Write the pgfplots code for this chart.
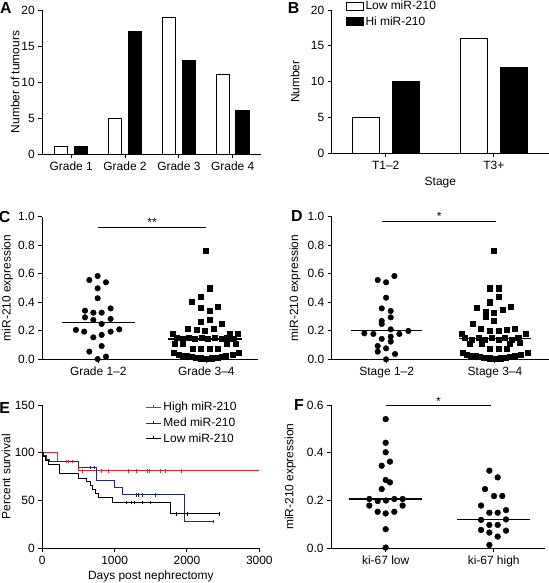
\documentclass[border=0pt]{standalone}
\usepackage{pgfplots}
\pgfplotsset{compat=1.18}
\usepackage{fontspec}
\setmainfont{Liberation Sans}
\definecolor{kmred}{RGB}{225,35,35}
\definecolor{kmblue}{RGB}{35,35,140}
\newcommand{\fs}{\fontsize{12}{14}\selectfont}
\pgfplotsset{
  panel/.style={
    scale only axis,
    axis x line*=bottom, axis y line*=left,
    axis line style={line width=1bp,-},
    tick align=outside,
    major tick length=4bp,
    tick style={line width=1bp,black},
    tick label style={font=\fs},
    label style={font=\fs},
    /pgf/number format/assume math mode=true,
    /pgf/number format/1000 sep={},
    clip=false,
  },
  ylab/.style={ylabel style={at={(axis description cs:#1,0.5)},anchor=center}},
  onedec/.style={yticklabel style={/pgf/number format/.cd,fixed,fixed zerofill,precision=1}},
}
\begin{document}
\begin{tikzpicture}
\useasboundingbox (0,0) rectangle (549bp,-583bp);
\tikzset{pl/.style={font=\bfseries\fontsize{16}{16}\selectfont,inner sep=0pt}}
\node[pl] at (5.8bp,-8bp) {A};
\node[pl] at (293.7bp,-8bp) {B};
\node[pl] at (4.7bp,-217bp) {C};
\node[pl] at (297bp,-216bp) {D};
\node[pl] at (4.7bp,-408.3bp) {E};
\node[pl] at (299bp,-404.7bp) {F};

% ---------- A ----------
\begin{axis}[panel, at={(42.3bp,-154bp)}, anchor=south west, width=218.4bp, height=144bp,
  xmin=-0.537, xmax=3.52, ymin=0, ymax=20, ytick={0,5,10,15,20},
  xtick={0,1,2,3}, xticklabels={Grade 1,Grade 2,Grade 3,Grade 4},
  ylabel={Number of tumours}, ylab=-0.125]
\addplot[ybar, bar width=0.25, bar shift=-0.185, draw=black, fill=white, line width=1bp] coordinates {(0,1)(1,5)(2,19)(3,11)};
\addplot[ybar, bar width=0.25, bar shift=0.185, draw=black, fill=black, line width=1bp] coordinates {(0,1)(1,17)(2,13)(3,6)};
\end{axis}

% ---------- B ----------
\begin{axis}[panel, at={(331.7bp,-153.3bp)}, anchor=south west, width=217.3bp, height=143.3bp,
  xmin=-0.5, xmax=1.51, ymin=0, ymax=20, ytick={0,5,10,15,20},
  xtick={0,1}, xticklabels={T1--2,T3+},
  xlabel={Stage}, xlabel style={at={(axis description cs:0.5,-0.205)},anchor=center},
  ylabel={Number}, ylab=-0.169,
  legend image code/.code={\draw[#1] (0bp,-3.7bp) rectangle (16.5bp,3.7bp);},
  legend style={at={(axis description cs:0.065,1.076)}, anchor=north west, draw=none, fill=none,
    inner sep=0pt, font=\fs, row sep=1bp}, legend cell align=left]
\addplot[ybar, bar width=0.25, bar shift=-0.185, draw=black, fill=white, line width=1bp] coordinates {(0,5)(1,16)};
\addlegendentry{Low miR-210}
\addplot[ybar, bar width=0.25, bar shift=0.185, draw=black, fill=black, line width=1bp] coordinates {(0,10)(1,12)};
\addlegendentry{Hi miR-210}
\end{axis}

% ---------- C ----------
\begin{axis}[panel, at={(42.3bp,-359.3bp)}, anchor=south west, width=216bp, height=142.6bp,
  xmin=-0.518, xmax=1.48, ymin=0, ymax=1, ytick={0,0.2,0.4,0.6,0.8,1.0}, onedec,
  xtick={0,1}, xticklabels={Grade 1--2,Grade 3--4},
  ylabel={miR-210 expression}, ylab=-0.161]
\addplot[only marks, mark=*, mark size=2.8bp, black] coordinates {
(-0.083,0.556) (-0.006,0.584) (0.071,0.540) (-0.006,0.498) (-0.006,0.428) (-0.123,0.341) (-0.046,0.327) (0.031,0.327) (0.114,0.357) (-0.123,0.294) (-0.046,0.276) (0.031,0.248) (0.114,0.283) (-0.207,0.206) (-0.130,0.194) (-0.046,0.154) (0.031,0.171) (0.114,0.194) (0.194,0.210) (-0.083,0.054) (0.031,0.093) (-0.006,0.002) (0.071,0.019)};
\addplot[only marks, mark=square*, mark size=2.6bp, black] coordinates {
(0.99,0.762) (1.031,0.498) (0.947,0.439) (0.867,0.404) (0.947,0.362) (1.031,0.341) (1.108,0.369) (0.947,0.264) (1.031,0.276) (0.830,0.217) (0.907,0.205) (0.984,0.201) (1.071,0.217) (1.145,0.248) (0.685,0.182) (1.293,0.177) (1.216,0.177)
(0.722,0.150) (0.784,0.142) (0.839,0.150) (0.892,0.142) (0.953,0.150) (1.015,0.142) (1.077,0.150) (1.139,0.142) (1.191,0.150) (1.247,0.142)
(0.707,0.112) (0.784,0.108) (1.191,0.112) (1.271,0.108)
(0.870,0.077) (0.947,0.072) (1.031,0.077) (1.108,0.072)
(0.70,0.045) (0.74,0.035) (0.78,0.028) (0.82,0.022) (0.86,0.017) (0.90,0.012) (0.95,0.008) (1.0,0.003) (1.05,0.008) (1.10,0.012) (1.14,0.017) (1.18,0.022) (1.24,0.032) (1.30,0.045)};
\addplot[black, line width=1.2bp] coordinates {(-0.34,0.26)(0.34,0.26)};
\addplot[black, line width=1.2bp] coordinates {(0.647,0.142)(1.327,0.142)};
\addplot[black, line width=1.2bp] coordinates {(-0.005,0.923)(1.0,0.923)};
\node[anchor=base, font=\fs, inner sep=0pt] at (axis cs:0.4975,0.93) {**};
\end{axis}

% ---------- D ----------
\begin{axis}[panel, at={(331.7bp,-359.3bp)}, anchor=south west, width=217.3bp, height=142.6bp,
  xmin=-0.508, xmax=1.499, ymin=0, ymax=1, ytick={0,0.2,0.4,0.6,0.8,1.0}, onedec,
  xtick={0,1}, xticklabels={Stage 1--2,Stage 3--4},
  ylabel={miR-210 expression}, ylab=-0.169]
\addplot[only marks, mark=*, mark size=2.8bp, black] coordinates {
(-0.083,0.556) (-0.006,0.540) (0.071,0.584) (-0.006,0.432) (-0.046,0.357) (0.037,0.339) (0.037,0.294) (-0.046,0.269) (-0.046,0.248) (0.037,0.210) (-0.206,0.182) (-0.123,0.178) (0.117,0.178) (0.2,0.199) (-0.046,0.143) (0.037,0.159) (-0.083,0.093) (0.037,0.124) (-0.083,0.054) (-0.006,0.077) (0.077,0.037) (-0.006,0.0)};
\addplot[only marks, mark=square*, mark size=2.6bp, black] coordinates {
(0.991,0.762) (0.948,0.498) (1.031,0.498) (1.031,0.439) (0.948,0.400) (0.831,0.362) (0.914,0.334) (0.914,0.299) (0.991,0.327) (1.071,0.350) (1.145,0.369) (0.991,0.271) (0.794,0.252) (0.871,0.217) (0.954,0.201) (1.031,0.201) (1.108,0.210) (1.185,0.217) (0.692,0.182) (1.286,0.178)
(0.723,0.150) (0.785,0.140) (0.846,0.150) (0.908,0.140) (0.969,0.150) (1.031,0.140) (1.092,0.150) (1.154,0.140) (1.215,0.150)
(0.769,0.112) (0.877,0.107) (1.138,0.112) (1.231,0.117)
(0.948,0.072) (1.031,0.072) (1.108,0.077)
(0.70,0.045) (0.74,0.035) (0.78,0.028) (0.82,0.022) (0.86,0.017) (0.90,0.012) (0.95,0.008) (1.0,0.003) (1.05,0.008) (1.10,0.012) (1.14,0.017) (1.18,0.022) (1.24,0.032) (1.30,0.045)};
\addplot[black, line width=1.2bp] coordinates {(-0.33,0.201)(0.33,0.201)};
\addplot[black, line width=1.2bp] coordinates {(0.67,0.147)(1.33,0.147)};
\addplot[black, line width=1.2bp] coordinates {(-0.04,0.965)(1.01,0.965)};
\node[anchor=base, font=\fs, inner sep=0pt] at (axis cs:0.485,0.972) {*};
\end{axis}

% ---------- E ----------
\begin{axis}[panel, at={(42.3bp,-548.3bp)}, anchor=south west, width=217bp, height=143.3bp,
  xmin=0, xmax=3000, ymin=0, ymax=150, xtick={0,1000,2000,3000}, ytick={0,50,100,150},
  xlabel={Days post nephrectomy}, xlabel style={at={(axis description cs:0.5,-0.219)},anchor=base},
  ylabel={Percent survival}, ylab=-0.167,
  legend image code/.code={\draw[#1] (0bp,0bp) -- (15bp,0bp); \draw[#1] (7.5bp,-0.5bp) -- (7.5bp,2.5bp);},
  legend style={at={(axis description cs:0.475,1.034)}, anchor=north west, draw=none, fill=none,
    inner sep=0pt, font=\fs, row sep=1.5bp}, legend cell align=left]
\addplot[const plot, kmred, line width=0.9bp] coordinates {(0,100)(212,90.8)(498,81)(3000,81)};
\addlegendentry{High miR-210}
\addplot[const plot, kmblue, line width=0.9bp] coordinates {(0,100)(20,96.7)(60,93.4)(100,91)(498,84.5)(751,71.5)(1004,64)(1106,56)(1972,28)(2364,28)};
\addlegendentry{Med miR-210}
\addplot[const plot, black, line width=0.9bp] coordinates {(0,100)(15,96)(50,92)(85,88.3)(244,78)(498,73.3)(613,69.8)(659,66)(700,62)(740,57.6)(774,53)(968,47.8)(1765,36)(2442,36)};
\addlegendentry{Low miR-210}
\addplot[forget plot, only marks, mark=|, mark size=1.8bp, kmred, line width=0.8bp] coordinates {(336,90.8)(359,90.8)(419,90.8)(553,81)(820,81)(912,81)(1189,81)(1304,81)(1456,81)(1475,81)(1627,81)(1705,81)(1926,81)};
\addplot[forget plot, only marks, mark=|, mark size=1.8bp, kmblue, line width=0.8bp] coordinates {(659,84.5)(719,84.5)(1304,56)(1327,56)(1382,56)(1567,56)(2364,28)};
\addplot[forget plot, only marks, mark=|, mark size=1.8bp, black, line width=0.8bp] coordinates {(1166,47.8)(1235,47.8)(1272,47.8)(1382,47.8)(1488,47.8)(1857,36)(2004,36)(2442,36)};
\end{axis}

% ---------- F ----------
\begin{axis}[panel, at={(331bp,-548.3bp)}, anchor=south west, width=214bp, height=143.3bp,
  xmin=-0.506, xmax=1.475, ymin=0, ymax=0.6, ytick={0,0.2,0.4,0.6}, onedec,
  xtick={0,1}, xticklabels={ki-67 low,ki-67 high},
  ylabel={miR-210 expression}, ylab=-0.19]
\addplot[only marks, mark=*, mark size=2.9bp, black] coordinates {
(0.0,0.541) (0.0,0.442) (0.0,0.402) (0.04,0.363) (-0.037,0.346) (0.0,0.286) (0.04,0.276) (-0.037,0.248) (-0.151,0.2065) (-0.074,0.198) (0.003,0.20) (0.08,0.2065) (0.157,0.2065) (-0.151,0.179) (-0.074,0.153) (0.0,0.146) (0.08,0.153) (0.157,0.179) (0.0,0.08) (0.0,0.003)};
\addplot[only marks, mark=*, mark size=2.9bp, black] coordinates {
(0.96,0.325) (1.037,0.297) (0.92,0.248) (1.003,0.219) (1.08,0.219) (0.883,0.179) (0.96,0.149) (1.037,0.149) (1.114,0.160) (0.883,0.119) (0.96,0.098) (1.037,0.098) (1.114,0.121) (0.883,0.077) (0.96,0.066) (1.037,0.049) (1.114,0.074) (0.96,0.014)};
\addplot[black, line width=1.2bp] coordinates {(-0.34,0.2065)(0.34,0.2065)};
\addplot[black, line width=1.2bp] coordinates {(0.66,0.121)(1.34,0.121)};
\addplot[black, line width=1.2bp] coordinates {(0,0.597)(0.975,0.597)};
\node[anchor=base, font=\fs, inner sep=0pt] at (axis cs:0.4875,0.6) {*};
\end{axis}
\end{tikzpicture}
\end{document}
